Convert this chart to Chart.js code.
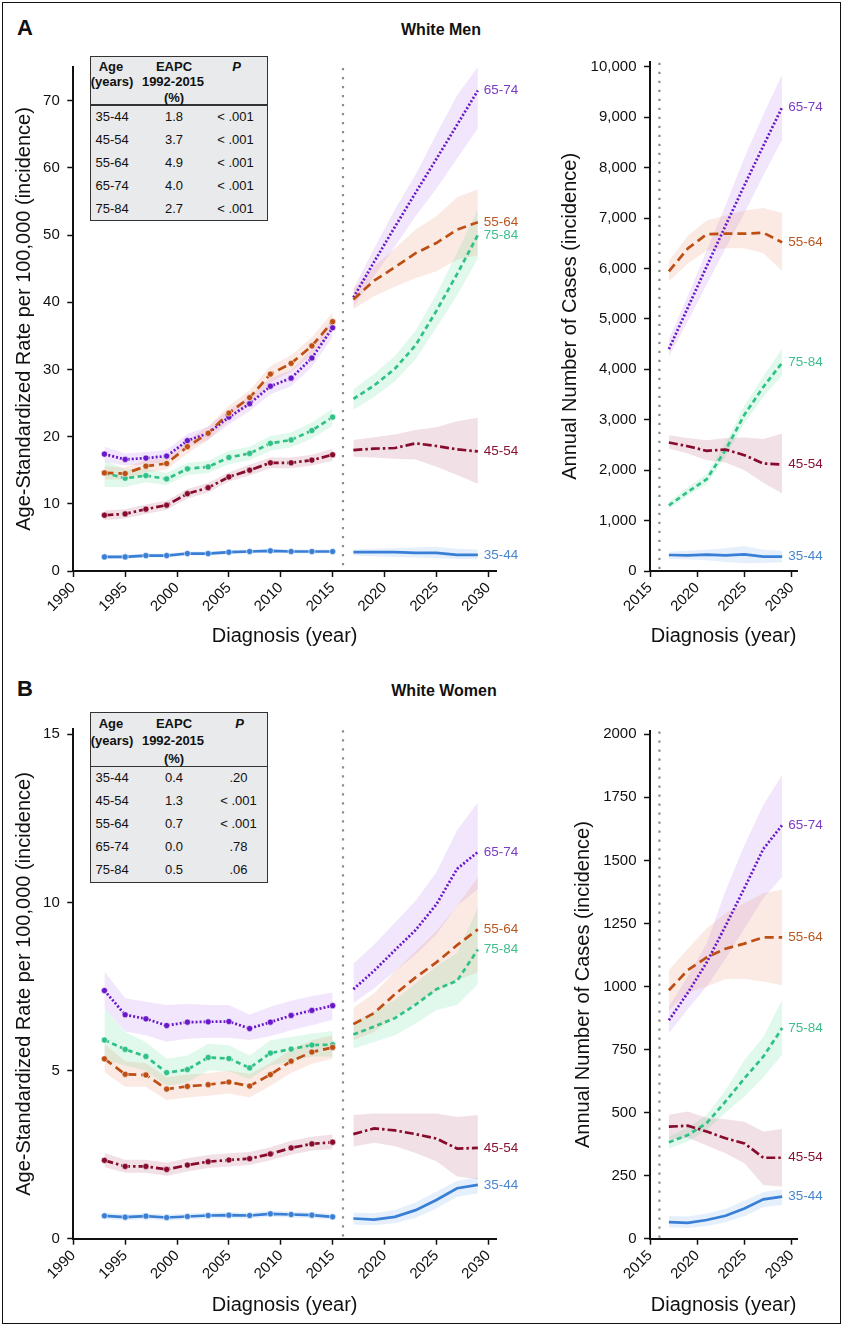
<!DOCTYPE html>
<html><head><meta charset="utf-8">
<script src="https://cdn.jsdelivr.net/npm/chart.js@4.4.1/dist/chart.umd.min.js"></script>
<style>
html,body{margin:0;padding:0;background:#fff;}
#page{position:relative;width:843px;height:1326px;overflow:hidden;font-family:"Liberation Sans",Arial,Helvetica,sans-serif;color:#111;}
#frame{position:absolute;left:2px;top:2px;width:839px;height:1322px;border:1.5px solid #111;box-sizing:border-box;}
canvas{position:absolute;}
.t{position:absolute;white-space:nowrap;line-height:1;}
.tbl{position:absolute;background:#e8eaeb;border:1.5px solid #333;box-sizing:border-box;}
</style></head><body>
<div id="page"><div id="frame"></div></div>
<script>
// ---------------- DATA ----------------
const ageGroups = ['35-44','45-54','55-64','65-74','75-84'];
const histYears = [1993,1995,1997,1999,2001,2003,2005,2007,2009,2011,2013,2015];
const projYears = [2017,2019,2021,2023,2025,2027,2029];
const projectionStart = 2016;

const xTicksLeft = [1990,1995,2000,2005,2010,2015,2020,2025,2030];
const xTicksRight = [2015,2020,2025,2030];
const yTicksMenRate = [0,10,20,30,40,50,60,70];
const yTicksMenCases = [0,1000,2000,3000,4000,5000,6000,7000,8000,9000,10000];
const yTicksWomenRate = [0,5,10,15];
const yTicksWomenCases = [0,250,500,750,1000,1250,1500,1750,2000];

// White men, age-standardized rate (order: 35-44, 45-54, 55-64, 65-74, 75-84)
const menRateHist = [
  [2.1,2.1,2.3,2.3,2.6,2.6,2.8,2.9,3.0,2.9,2.9,2.9],
  [8.3,8.5,9.2,9.8,11.5,12.4,14.0,15.0,16.1,16.1,16.5,17.3],
  [14.6,14.5,15.6,16.0,18.5,20.5,23.5,25.8,29.3,30.9,33.5,37.1],
  [17.4,16.6,16.8,17.1,19.4,20.5,22.9,24.9,27.5,28.7,31.7,36.2],
  [14.6,13.8,14.2,13.7,15.2,15.5,16.9,17.5,19.0,19.5,20.9,22.9]];
const menRateHistLo = [
  [1.8,1.8,2.0,2.0,2.3,2.3,2.5,2.6,2.7,2.6,2.6,2.6],
  [7.6,7.8,8.5,9.1,10.8,11.7,13.3,14.2,15.3,15.3,15.7,16.4],
  [13.6,13.6,14.7,15.1,17.5,19.5,22.4,24.7,28.1,29.7,32.2,35.7],
  [16.3,15.7,15.9,16.2,18.4,19.5,21.8,23.8,26.3,27.5,30.4,34.8],
  [12.5,12.5,13.2,12.8,14.3,14.6,15.9,16.5,17.9,18.4,19.7,21.6]];
const menRateHistHi = [
  [2.4,2.4,2.6,2.6,2.9,2.9,3.1,3.2,3.3,3.2,3.2,3.2],
  [9.0,9.2,9.9,10.5,12.2,13.1,14.7,15.8,16.9,16.9,17.3,18.2],
  [15.6,15.4,16.5,16.9,19.5,21.5,24.6,26.9,30.5,32.1,34.8,38.5],
  [18.5,17.5,17.7,18.0,20.4,21.5,24.0,26.0,28.7,29.9,33.0,37.6],
  [16.5,15.1,15.2,14.6,16.1,16.4,17.9,18.5,20.1,20.6,22.1,24.2]];
const menRateProj = [
  [2.8,2.8,2.8,2.7,2.7,2.4,2.4],
  [18.0,18.2,18.3,19.0,18.6,18.1,17.8],
  [40.4,43.2,45.2,47.3,48.8,50.8,51.9],
  [40.7,46.0,51.2,56.3,61.3,66.4,71.5],
  [25.6,27.6,30.1,33.6,38.7,44.2,50.0]];
const menRateProjLo = [
  [2.3,2.2,2.1,2.0,1.9,1.8,1.8],
  [17.0,16.9,16.7,16.6,15.5,14.3,13.0],
  [39.0,40.9,42.3,43.6,44.6,46.3,47.0],
  [39.2,43.9,48.3,52.8,56.9,61.4,65.9],
  [24.0,25.9,28.2,31.5,36.2,41.0,46.5]];
const menRateProjHi = [
  [3.2,3.3,3.4,3.5,3.6,3.3,3.2],
  [19.5,19.9,20.3,21.0,21.4,22.3,22.8],
  [41.9,45.3,48.0,50.8,52.8,55.6,56.8],
  [42.0,48.0,53.8,59.0,65.0,70.8,75.0],
  [27.1,29.3,32.0,35.8,41.2,47.4,53.8]];

// White men, annual number of cases
const menCasesProj = [
  [317,310,323,310,330,284,284],
  [2548,2475,2383,2409,2297,2132,2112],
  [5942,6395,6677,6690,6690,6710,6516],
  [4400,5220,6040,6850,7650,8430,9200],
  [1300,1570,1820,2400,3100,3650,4130]];
const menCasesProjLo = [
  [238,230,215,180,152,160,172],
  [2429,2330,2198,2150,2000,1750,1538],
  [5740,6100,6350,6400,6400,6300,5950],
  [4250,4950,5680,6400,7100,7850,8550],
  [1230,1490,1720,2270,2930,3450,3880]];
const menCasesProjHi = [
  [383,400,420,450,495,420,403],
  [2693,2640,2594,2640,2647,2620,2726],
  [6150,6650,6950,7050,7150,7200,7100],
  [4600,5450,6350,7250,8200,9050,9850],
  [1380,1660,1930,2540,3280,3860,4410]];

// White women, age-standardized rate
const womenRateHist = [
  [0.68,0.64,0.67,0.63,0.66,0.69,0.70,0.69,0.74,0.72,0.70,0.65],
  [2.33,2.15,2.15,2.06,2.19,2.29,2.34,2.38,2.52,2.70,2.82,2.87],
  [5.35,4.89,4.87,4.45,4.53,4.58,4.66,4.54,4.88,5.28,5.55,5.69],
  [7.38,6.66,6.54,6.34,6.44,6.45,6.46,6.25,6.44,6.64,6.79,6.93],
  [5.91,5.63,5.42,4.94,5.03,5.39,5.36,5.08,5.52,5.64,5.76,5.77]];
const womenRateHistLo = [
  [0.58,0.55,0.58,0.54,0.57,0.60,0.61,0.60,0.65,0.63,0.61,0.56],
  [2.13,1.96,1.96,1.87,2.00,2.10,2.15,2.19,2.33,2.50,2.62,2.66],
  [4.95,4.52,4.52,4.12,4.20,4.25,4.32,4.20,4.55,4.93,5.20,5.35],
  [6.86,6.16,6.05,5.86,5.95,5.98,5.98,5.91,6.02,6.20,6.35,6.51],
  [5.32,5.15,5.00,4.55,4.65,5.00,4.98,4.75,5.15,5.28,5.42,5.42]];
const womenRateHistHi = [
  [0.78,0.73,0.76,0.72,0.75,0.78,0.79,0.78,0.83,0.81,0.79,0.74],
  [2.55,2.35,2.35,2.26,2.39,2.49,2.54,2.58,2.72,2.91,3.03,3.10],
  [5.80,5.28,5.22,4.80,4.88,4.92,5.00,4.90,5.22,5.63,5.90,6.05],
  [7.95,7.15,7.05,6.95,6.98,6.95,6.95,6.66,6.90,7.08,7.22,7.32],
  [6.86,6.15,5.85,5.35,5.45,5.80,5.75,5.45,5.90,6.00,6.10,6.18]];
const womenRateProj = [
  [0.60,0.57,0.65,0.85,1.15,1.50,1.60],
  [3.11,3.28,3.22,3.11,2.98,2.68,2.70],
  [6.38,6.71,7.27,7.77,8.22,8.73,9.20],
  [7.42,7.97,8.58,9.18,9.94,11.00,11.50],
  [6.07,6.31,6.56,6.96,7.42,7.67,8.60]];
const womenRateProjLo = [
  [0.42,0.40,0.46,0.62,0.90,1.25,1.35],
  [2.74,2.85,2.75,2.55,2.30,1.85,1.77],
  [5.90,6.15,6.60,7.00,7.35,7.70,7.92],
  [7.01,7.45,7.95,8.45,9.05,9.90,10.39],
  [5.65,5.85,6.05,6.40,6.80,6.95,7.57]];
const womenRateProjHi = [
  [0.78,0.76,0.85,1.08,1.40,1.72,1.82],
  [3.68,3.72,3.72,3.72,3.72,3.62,3.68],
  [6.87,7.30,7.95,8.55,9.15,9.90,10.75],
  [8.18,8.75,9.40,10.05,10.90,12.15,12.97],
  [6.45,6.75,7.10,7.60,8.10,8.50,9.84]];

// White women, annual number of cases
const womenCasesProj = [
  [66,63,74,91,120,156,167],
  [444,448,425,398,378,321,321],
  [985,1065,1115,1150,1170,1195,1195],
  [866,975,1095,1240,1390,1545,1640],
  [382,411,458,544,636,722,835]];
const womenCasesProjLo = [
  [45,42,50,65,90,125,134],
  [392,400,370,339,299,213,206],
  [905,975,1000,1030,1030,1020,1005],
  [815,910,1000,1110,1230,1350,1435],
  [358,385,430,500,563,640,729]];
const womenCasesProjHi = [
  [90,88,100,118,150,185,196],
  [491,504,480,474,464,425,435],
  [1065,1150,1230,1290,1330,1370,1385],
  [920,1040,1170,1380,1560,1720,1840],
  [405,440,490,590,709,800,947]];

// EAPC tables
const eapcMen = ['1.8','3.7','4.9','4.0','2.7'];
const pMen = ['< .001','< .001','< .001','< .001','< .001'];
const eapcWomen = ['0.4','1.3','0.7','0.0','0.5'];
const pWomen = ['.20','< .001','< .001','.78','.06'];

// ---------------- STYLES ----------------
const seriesStyle = [
  {color:'#3a7fd6', text:'#4a86d0', band:'rgba(100,165,235,0.17)', dash:[]},
  {color:'#870b2d', text:'#8a1333', band:'rgba(165,50,95,0.15)', dash:[9,3,2.5,3]},
  {color:'#bd4e14', text:'#b9561f', band:'rgba(225,130,90,0.17)', dash:[9,5]},
  {color:'#6a17c9', text:'#7b3cc4', band:'rgba(180,120,235,0.19)', dash:[2,2]},
  {color:'#2fc185', text:'#3dbf8c', band:'rgba(90,220,150,0.18)', dash:[5,3.5]}];
const FONT = '"Liberation Sans", Arial, Helvetica, sans-serif';
const INK = '#111';

// condensed font for axis titles if installed
function hasFont(name) {
  const c = document.createElement('canvas').getContext('2d');
  const s = 'Diagnosis (year) Age-Standardized';
  c.font = '40px monospace'; const a = c.measureText(s).width;
  c.font = '40px "' + name + '", monospace'; const b = c.measureText(s).width;
  return Math.abs(a - b) > 1;
}
const narrow = hasFont('Liberation Sans Narrow');
const TITLE_FONT = narrow ? '"Liberation Sans Narrow", "Liberation Sans", Arial, sans-serif' : FONT;
const TITLE_SIZE = narrow ? 23.5 : 20;
const TITLE_HALF = TITLE_SIZE * 1.2 / 2;

// ---------------- HTML TEXT ----------------
const page = document.getElementById('page');
function txt(parent, s, x, yc, o) {
  o = o || {};
  const d = document.createElement('div');
  d.className = 't';
  d.textContent = s;
  const fs = o.size || 13;
  d.style.fontSize = fs + 'px';
  d.style.fontWeight = o.bold ? 'bold' : 'normal';
  if (o.italic) d.style.fontStyle = 'italic';
  d.style.top = (yc - 0.4885 * fs) + 'px';
  d.style.left = x + 'px';
  if (o.center) d.style.transform = 'translateX(-50%)';
  parent.appendChild(d);
  return d;
}
txt(page, 'A', 17, 28, {size:22, bold:true});
txt(page, 'White Men', 441, 30.2, {size:16, bold:true, center:true});
txt(page, 'B', 17, 689, {size:22, bold:true});
txt(page, 'White Women', 444, 690.8, {size:16, bold:true, center:true});

function makeTable(left, top, headerH, eapc, pv, pCol) {
  const rowH = 23;
  const box = document.createElement('div');
  box.className = 'tbl';
  box.style.left = left + 'px'; box.style.top = top + 'px';
  box.style.width = '177.5px'; box.style.height = (headerH + rowH * ageGroups.length + 1) + 'px';
  page.appendChild(box);
  const sep = document.createElement('div');
  sep.style.cssText = 'position:absolute;left:0;right:0;height:1.5px;background:#333;top:' + (headerH - 2) + 'px';
  box.appendChild(sep);
  const h = [headerH * 0.22 - 1.5, headerH * 0.53 - 1.5, headerH * 0.86 - 1.5];
  txt(box, 'Age', 20, h[0], {bold:true, center:true});
  txt(box, '(years)', 21, h[1], {bold:true, center:true});
  txt(box, 'EAPC', 83, h[0], {bold:true, center:true});
  txt(box, '1992-2015', 82, h[1], {bold:true, center:true});
  txt(box, '(%)', 83, h[2], {bold:true, center:true});
  txt(box, 'P', pCol + 1, h[0], {bold:true, italic:true, center:true});
  ageGroups.forEach((a, i) => {
    const yc = headerH - 1.5 + rowH * (i + 0.5);
    txt(box, a, 4.5, yc, {});
    txt(box, eapc[i], 83, yc, {center:true});
    txt(box, pv[i], pCol, yc, {center:true});
  });
}
makeTable(90, 55.7, 49.5, eapcMen, pMen, 144.5);
makeTable(90, 711.7, 55, eapcWomen, pWomen, 147.5);

// ---------------- CHARTS ----------------
const overlay = {
  id: 'overlay',
  beforeDatasetsDraw(chart, args, opts) {
    const {ctx, chartArea} = chart;
    const x = chart.scales.x.getPixelForValue(opts.divider);
    ctx.save();
    ctx.strokeStyle = '#8c8c8c';
    ctx.lineWidth = 2.2;
    ctx.setLineDash([2.2, 6.8]);
    ctx.beginPath();
    ctx.moveTo(x, chartArea.top + 1);
    ctx.lineTo(x, chartArea.bottom);
    ctx.stroke();
    ctx.restore();
  },
  afterDatasetsDraw(chart, args, opts) {
    const {ctx} = chart;
    ctx.save();
    ctx.font = '13.5px ' + FONT;
    ctx.textBaseline = 'middle';
    ctx.textAlign = 'left';
    opts.ends.forEach((vals, i) => {
      const xv = projYears[projYears.length - 1];
      const yv = vals[vals.length - 1];
      ctx.fillStyle = seriesStyle[i].text;
      ctx.fillText(ageGroups[i], chart.scales.x.getPixelForValue(xv) + 6, chart.scales.y.getPixelForValue(yv));
    });
    ctx.restore();
  }
};

function pts(xs, ys) { return xs.map((x, j) => ({x: x, y: ys[j]})); }

function buildChart(P) {
  const cv = document.createElement('canvas');
  cv.width = P.box.w; cv.height = P.box.h;
  cv.style.left = P.box.l + 'px'; cv.style.top = P.box.t + 'px';
  cv.style.width = P.box.w + 'px'; cv.style.height = P.box.h + 'px';
  page.appendChild(cv);
  const lines = [], bands = [];
  ageGroups.forEach((a, i) => {
    const st = seriesStyle[i];
    const common = {borderColor: st.color, borderWidth: 2.7, borderDash: st.dash, fill: false, tension: 0,
      pointBackgroundColor: st.color, pointBorderColor: 'rgba(255,255,255,0.85)', pointBorderWidth: 0.7};
    if (P.hist) {
      lines.push(Object.assign({label: a, data: pts(histYears, P.hist[i]), pointRadius: 3.1}, common));
      bands.push({data: pts(histYears, P.histHi[i]), fill: '+1', backgroundColor: st.band, borderWidth: 0, pointRadius: 0});
      bands.push({data: pts(histYears, P.histLo[i]), fill: false, borderWidth: 0, pointRadius: 0});
    }
    lines.push(Object.assign({label: a, data: pts(projYears, P.proj[i]), pointRadius: 0}, common));
    bands.push({data: pts(projYears, P.projHi[i]), fill: '+1', backgroundColor: st.band, borderWidth: 0, pointRadius: 0});
    bands.push({data: pts(projYears, P.projLo[i]), fill: false, borderWidth: 0, pointRadius: 0});
  });
  const gridOpts = {display: true, drawOnChartArea: false, drawTicks: true, tickLength: 6, tickWidth: 1.5, tickColor: INK, color: INK};
  const borderOpts = {display: true, color: INK, width: 2};
  new Chart(cv, {
    type: 'line',
    data: {datasets: lines.concat(bands)},
    plugins: [overlay],
    options: {
      responsive: false, animation: false, devicePixelRatio: 1,
      layout: {padding: {left: 0, top: P.area.t - P.box.t, right: P.box.l + P.box.w - P.area.r, bottom: 0}},
      plugins: {legend: {display: false}, tooltip: {enabled: false},
        overlay: {divider: projectionStart, ends: P.proj}},
      scales: {
        x: {type: 'linear', min: P.xMin, max: P.xMax,
          afterBuildTicks: s => { s.ticks = P.xTicks.map(v => ({value: v})); },
          afterFit: s => { s.height = P.box.t + P.box.h - P.area.b; },
          ticks: {font: {family: FONT, size: 15}, color: INK, minRotation: 45, maxRotation: 45, padding: 2, autoSkip: false,
            callback: v => String(v)},
          grid: gridOpts, border: borderOpts,
          title: {display: true, text: 'Diagnosis (year)', color: INK, font: {family: TITLE_FONT, size: TITLE_SIZE},
            padding: {top: 0, bottom: P.xTitleFromBottom - TITLE_HALF}}},
        y: {type: 'linear', min: 0, max: P.yMax,
          afterBuildTicks: s => { s.ticks = P.yTicks.map(v => ({value: v})); },
          afterFit: s => { s.width = P.area.l - P.box.l; },
          ticks: {font: {family: FONT, size: 15}, color: INK, padding: 7.5, callback: P.fmt},
          grid: gridOpts, border: borderOpts,
          title: {display: true, text: P.yTitle, color: INK, font: {family: TITLE_FONT, size: TITLE_SIZE},
            padding: {top: P.yTitleOffset - TITLE_HALF, bottom: 0}}}
      }
    }
  });
}

const rateTitle = 'Age-Standardized Rate per 100,000 (incidence)';
const casesTitle = 'Annual Number of Cases (incidence)';

buildChart({box: {l: 0, t: 40, w: 532, h: 610}, area: {l: 73.3, r: 496, t: 67, b: 571},
  hist: menRateHist, histLo: menRateHistLo, histHi: menRateHistHi,
  proj: menRateProj, projLo: menRateProjLo, projHi: menRateProjHi,
  xMin: 1990, xMax: 2030.75, xTicks: xTicksLeft, yMax: 75, yTicks: yTicksMenRate,
  fmt: v => String(v), yTitle: rateTitle, yTitleOffset: 24, xTitleFromBottom: 14});

buildChart({box: {l: 540, t: 40, w: 298, h: 610}, area: {l: 650, r: 797.3, t: 61.7, b: 571},
  proj: menCasesProj, projLo: menCasesProjLo, projHi: menCasesProjHi,
  xMin: 2015, xMax: 2030.6, xTicks: xTicksRight, yMax: 10100, yTicks: yTicksMenCases,
  fmt: v => Number(v).toLocaleString('en-US'), yTitle: casesTitle, yTitleOffset: 30, xTitleFromBottom: 13.5});

buildChart({box: {l: 0, t: 700, w: 532, h: 620}, area: {l: 73.3, r: 496, t: 729.3, b: 1238.7},
  hist: womenRateHist, histLo: womenRateHistLo, histHi: womenRateHistHi,
  proj: womenRateProj, projLo: womenRateProjLo, projHi: womenRateProjHi,
  xMin: 1990, xMax: 2030.75, xTicks: xTicksLeft, yMax: 15.15, yTicks: yTicksWomenRate,
  fmt: v => String(v), yTitle: rateTitle, yTitleOffset: 24, xTitleFromBottom: 15});

buildChart({box: {l: 540, t: 700, w: 298, h: 620}, area: {l: 650, r: 797.3, t: 730.5, b: 1238.7},
  proj: womenCasesProj, projLo: womenCasesProjLo, projHi: womenCasesProjHi,
  xMin: 2015, xMax: 2030.6, xTicks: xTicksRight, yMax: 2015, yTicks: yTicksWomenCases,
  fmt: v => String(v), yTitle: casesTitle, yTitleOffset: 43, xTitleFromBottom: 15});
</script>
</body></html>
